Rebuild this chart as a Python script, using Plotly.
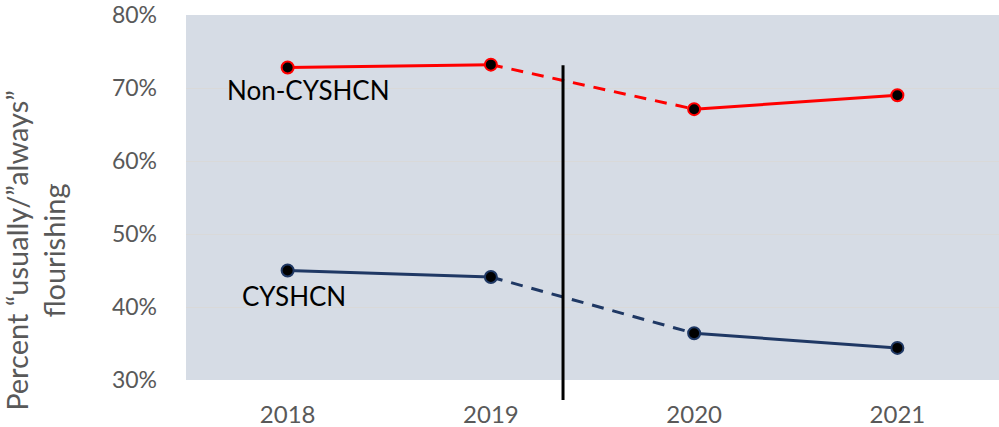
import plotly.graph_objects as go

years = ["2018", "2019", "2020", "2021"]
non_cyshcn = [72.8, 73.2, 67.1, 69.0]
cyshcn = [45.0, 44.1, 36.4, 34.4]
y_ticks = [30, 40, 50, 60, 70, 80]
y_tick_labels = ["30%", "40%", "50%", "60%", "70%", "80%"]
divider_x = 1.355        # between 2019 and 2020 (category index)
divider_top = 73.1       # percent

RED = "#FF0000"
NAVY = "#1F3864"
FONT = "Lato"

fig = go.Figure()

def add_series(vals, color):
    fig.add_trace(go.Scatter(x=years[0:2], y=vals[0:2], mode="lines",
                             line=dict(color=color, width=3), showlegend=False, hoverinfo="skip"))
    fig.add_trace(go.Scatter(x=years[1:3], y=vals[1:3], mode="lines",
                             line=dict(color=color, width=3, dash="12px,9px"), showlegend=False, hoverinfo="skip"))
    fig.add_trace(go.Scatter(x=years[2:4], y=vals[2:4], mode="lines",
                             line=dict(color=color, width=3), showlegend=False, hoverinfo="skip"))
    fig.add_trace(go.Scatter(x=years, y=vals, mode="markers",
                             marker=dict(color="black", size=12, line=dict(color=color, width=2)),
                             showlegend=False, cliponaxis=False))

add_series(non_cyshcn, RED)
add_series(cyshcn, NAVY)

# vertical divider
fig.add_shape(type="line", xref="x", yref="paper", x0=divider_x, x1=divider_x,
              y0=-0.055, y1=(divider_top - 30) / 50, line=dict(color="black", width=3))

# series labels (category index 0 = 2018)
fig.add_annotation(x=0, y=non_cyshcn[0], xref="x", yref="y", text="Non-CYSHCN",
                   showarrow=False, xshift=21, yshift=-22,
                   font=dict(family=FONT, size=26, color="black"))
fig.add_annotation(x=0, y=cyshcn[0], xref="x", yref="y", text="CYSHCN",
                   showarrow=False, xshift=6, yshift=-25,
                   font=dict(family=FONT, size=26, color="black"))

# y-axis title
fig.add_annotation(x=-0.186, y=0.356, xref="paper", yref="paper",
                   text="Percent “usually/”always”<br>flourishing",
                   textangle=-90, showarrow=False, xanchor="center", yanchor="middle",
                   font=dict(family=FONT, size=29, color="#595959"))

fig.update_layout(
    width=999, height=427,
    margin=dict(l=186, r=0, t=15, b=47),
    paper_bgcolor="white",
    plot_bgcolor="#D6DCE5",
    showlegend=False,
)
fig.update_xaxes(type="category", range=[-0.5, 3.5], showgrid=False, zeroline=False,
                 showline=False, ticks="", ticklabelstandoff=18, automargin=False,
                 ticklabeloverflow="allow",
                 tickfont=dict(family=FONT, size=24, color="#595959"))
fig.update_yaxes(range=[30, 80], tickvals=y_ticks, ticktext=y_tick_labels,
                 showgrid=True, gridcolor="#D9D9D9", gridwidth=1, zeroline=False,
                 showline=False, ticks="", ticklabelstandoff=28, automargin=False,
                 ticklabeloverflow="allow",
                 tickfont=dict(family=FONT, size=23, color="#595959"))

fig.write_html("out.html",
               config={"displayModeBar": False},
               post_script="document.body.style.margin='0';document.body.style.overflow='hidden';")
